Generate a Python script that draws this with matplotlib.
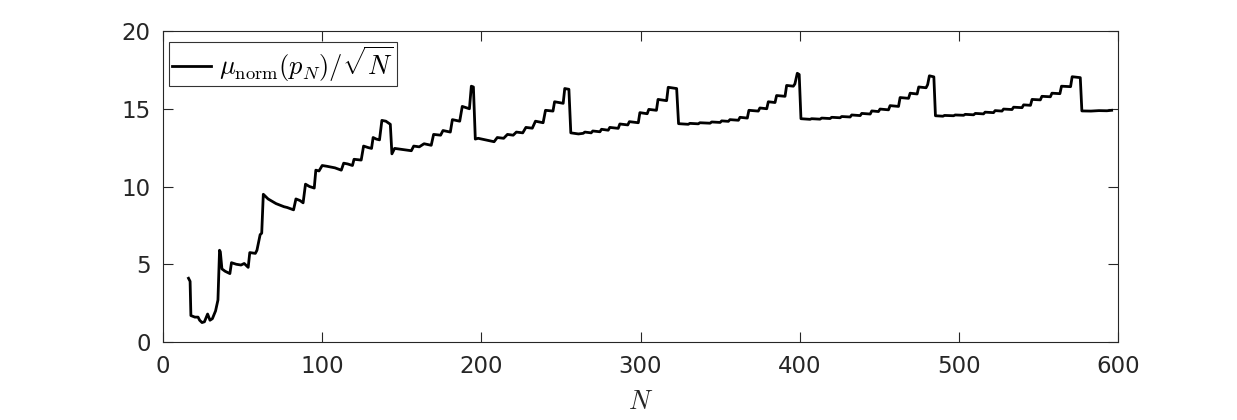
import numpy as np
import matplotlib
matplotlib.use("Agg")
import matplotlib.pyplot as plt

# values, N and mu_norm(p_N)/sqrt(N)
N_vals = [16, 17, 17.5, 20, 22, 23, 24.5, 26, 28, 29.5, 31, 33, 34.5, 35.5, 36, 37,
          39, 42, 43, 46, 49, 51, 53.5, 54.5, 58, 59, 61, 62, 63, 66, 71, 76, 78,
          82, 83.5, 86, 88, 89.5, 92, 95, 96, 98, 100, 103, 108, 112, 113.5, 116,
          119, 120, 124.5, 126, 129, 131, 132, 134, 136, 137.5, 140, 142.8, 143.8,
          145.5, 149, 153, 156, 157.5, 161, 164, 168.5, 170, 174.4, 175.9, 180.5,
          181.8, 186.4, 188, 192.5, 193.7, 195, 196.2, 198, 208, 210, 214, 216.4,
          220, 222, 226, 228, 232, 234, 238.8, 240.3, 245, 246, 251.4, 252.4, 255,
          256.2, 261, 264, 265, 269, 270, 274.5, 275.5, 279.7, 280.7, 286, 287,
          292, 293, 298.6, 299.6, 304.2, 305.2, 310, 311, 316.4, 317.4, 322.7,
          323.9, 330, 331, 336.3, 337.3, 343.7, 344.7, 350, 351, 355.2, 356.2,
          361.5, 362.5, 367.1, 368.1, 374, 375, 379.3, 380.3, 384.5, 385.5, 390.8,
          391.8, 396, 397, 398.5, 399.7, 400.8, 406.5, 407.5, 412.8, 413.8, 419.1,
          420.1, 425.4, 426.4, 431.7, 432.7, 438, 439, 444.3, 445.3, 449.5, 450.5,
          455.8, 456.8, 462.1, 463.1, 468.4, 469.4, 473.8, 474.8, 479.4, 480.4,
          481.5, 484.3, 485.3, 490, 491, 496.7, 497.7, 503, 504, 509.3, 510.3,
          515.5, 516.5, 521.8, 522.8, 527.1, 528.1, 533.4, 534.4, 539.7, 540.7,
          545, 546, 551.2, 552.2, 557.5, 558.5, 563.5, 564.5, 570.2, 571.2, 576.3,
          577.3, 583, 588, 593, 596]
mu_vals = [4.1, 3.9, 1.7, 1.6, 1.6, 1.4, 1.25, 1.3, 1.8, 1.4, 1.5, 2.0, 2.7, 5.9, 5.8, 4.7,
           4.55, 4.4, 5.1, 5.0, 4.95, 5.05, 4.8, 5.75, 5.7, 5.9, 6.9, 7.0, 9.5, 9.2, 8.9, 8.7, 8.65,
           8.5, 9.2, 9.1, 8.95, 10.15, 10.0, 9.9, 11.05, 11.0, 11.35, 11.3, 11.2, 11.05, 11.5, 11.45,
           11.35, 11.75, 11.7, 12.6, 12.5, 12.45, 13.15, 13.05, 13.0, 14.25, 14.2, 14.0, 12.1,
           12.45, 12.4, 12.35, 12.3, 12.6, 12.55, 12.75, 12.65, 13.35, 13.3, 13.6, 13.5,
           14.3, 14.2, 15.15, 15.0, 16.45, 16.4, 13.05, 13.1, 12.88, 13.15, 13.1, 13.35,
           13.3, 13.5, 13.45, 13.8, 13.75, 14.2, 14.1, 14.9, 14.85, 15.45, 15.35, 16.3, 16.25,
           13.45, 13.38, 13.42, 13.5, 13.45, 13.57, 13.52, 13.68, 13.62, 13.8, 13.74, 14.02,
           13.96, 14.17, 14.1, 14.75, 14.68, 14.96, 14.9, 15.6, 15.52, 16.38, 16.3,
           14.04, 14.0, 14.06, 14.03, 14.1, 14.07, 14.15, 14.12, 14.22, 14.19, 14.3,
           14.26, 14.45, 14.4, 14.9, 14.85, 15.05, 15.0, 15.45, 15.4, 15.85, 15.8,
           16.5, 16.45, 16.6, 17.28, 17.2, 14.36, 14.32, 14.36, 14.33, 14.4, 14.37,
           14.45, 14.42, 14.5, 14.47, 14.6, 14.56, 14.7, 14.66, 14.86, 14.82, 14.98,
           14.93, 15.2, 15.15, 15.72, 15.67, 16.0, 15.95, 16.4, 16.35, 16.55,
           17.12, 17.05, 14.55, 14.52, 14.57, 14.55, 14.6, 14.58, 14.64, 14.61, 14.7,
           14.67, 14.78, 14.75, 14.88, 14.85, 14.98, 14.95, 15.1, 15.07, 15.25,
           15.22, 15.6, 15.57, 15.8, 15.77, 16.0, 15.97, 16.45, 16.42, 17.06, 17.0,
           14.86, 14.85, 14.88, 14.87, 14.9]

x_ticks = [0, 100, 200, 300, 400, 500, 600]
y_ticks = [0, 5, 10, 15, 20]

plt.rcParams['mathtext.fontset'] = 'cm'
plt.rcParams['font.family'] = 'DejaVu Sans'

fig = plt.figure(figsize=(12.37, 4.2), dpi=100)
ax = fig.add_axes([0.1318, 0.1857, 0.7720, 0.7405])

ax.plot(N_vals, mu_vals, color='black', lw=2, label=r'$\mu_{\mathrm{norm}}(p_N)/\sqrt{N}$')

ax.set_xlim(0, 600)
ax.set_ylim(0, 20)
ax.set_xticks(x_ticks)
ax.set_yticks(y_ticks)
ax.tick_params(direction='in', length=7, width=0.8, top=True, right=True,
               labelsize=16.5, labelcolor='#262626', color='#262626', pad=9)
for s in ax.spines.values():
    s.set_color('#262626')
    s.set_linewidth(0.8)

ax.set_xlabel(r'$N$', fontsize=19, color='#262626', labelpad=8)

leg = ax.legend(loc='upper left', bbox_to_anchor=(0.0063, 0.966), borderaxespad=0,
                fontsize=19, frameon=True, fancybox=False,
                handlelength=1.5, handletextpad=0.3, borderpad=0.1,
                edgecolor='black')
leg.get_frame().set_linewidth(0.8)

fig.savefig('out.png', dpi=100)
